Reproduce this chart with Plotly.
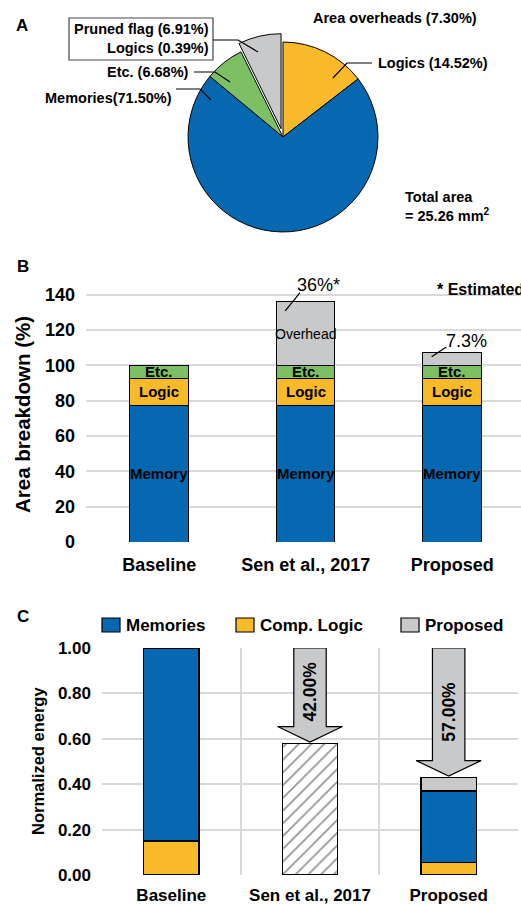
import plotly.graph_objects as go

# ---------------- data ----------------
pie_labels = ["Logics", "Memories", "Etc.", "Area overheads"]
pie_values = [14.52, 71.50, 6.68, 7.30]
pie_colors = ["#F8BA29", "#0568B0", "#7DBF63", "#C8C9CB"]

area_cats = ["Baseline", "Sen et al., 2017", "Proposed"]
area_memory = [77.1, 77.1, 77.1]
area_logic = [15.7, 15.7, 15.7]
area_etc = [7.2, 7.2, 7.2]
area_overhead = [None, 36.0, 7.3]
area_overhead_labels = [None, "36%*", "7.3%"]
area_ticks = [0, 20, 40, 60, 80, 100, 120, 140]

energy_cats = ["Baseline", "Sen et al., 2017", "Proposed"]
energy_logic = [0.15, None, 0.055]
energy_mem = [0.85, None, 0.315]
energy_prop = [None, None, 0.06]
energy_sen = [None, 0.58, None]
energy_ticks = [0.0, 0.2, 0.4, 0.6, 0.8, 1.0]

BLUE, ORANGE, GREEN, GRAY = "#0568B0", "#F8BA29", "#7DBF63", "#C8C9CB"
FONT = "Liberation Sans, Arial, sans-serif"
W, H = 521, 905


def px(x):
    return x / W


def py(y):
    return 1 - y / H


fig = go.Figure()

# ---------------- Panel A: pie ----------------
fig.add_trace(go.Pie(
    labels=pie_labels, values=pie_values, sort=False, direction="clockwise",
    rotation=0, textinfo="none", hoverinfo="label+percent",
    pull=[0, 0, 0, 0.09],
    marker=dict(colors=pie_colors, line=dict(color="black", width=1)),
    domain=dict(x=[px(179.5), px(386.5)], y=[py(240.5), py(33.5)]),
    showlegend=False, automargin=False,
))

# ---------------- Panel B: area breakdown ----------------
xb = list(range(len(area_cats)))
bline = dict(color="black", width=1)
for name, vals, col in [("Memory", area_memory, BLUE), ("Logic", area_logic, ORANGE),
                        ("Etc.", area_etc, GREEN), ("Overhead", area_overhead, GRAY)]:
    fig.add_trace(go.Bar(x=xb, y=vals, name=name, width=0.4,
                         marker=dict(color=col, line=bline),
                         xaxis="x", yaxis="y", showlegend=False))

# ---------------- Panel C: energy ----------------
xc = list(range(len(energy_cats)))
for name, vals, col in [("Comp. Logic", energy_logic, ORANGE), ("Memories", energy_mem, BLUE),
                        ("Proposed", energy_prop, GRAY)]:
    fig.add_trace(go.Bar(x=xc, y=vals, name=name, width=0.4,
                         marker=dict(color=col, line=dict(color="black", width=1.2)),
                         xaxis="x2", yaxis="y2", showlegend=False))
fig.add_trace(go.Bar(x=xc, y=energy_sen, name="Sen et al., 2017", width=0.4,
                     marker=dict(color="white", line=dict(color="black", width=1.2),
                                 pattern=dict(shape="/", fgcolor="#222222", bgcolor="white",
                                              size=9, solidity=0.18)),
                     xaxis="x2", yaxis="y2", showlegend=False))

annotations = []
shapes = []


def ann(text, x, y, size, xanchor="center", yanchor="middle", bold=True, xref="paper",
        yref="paper", align="center", textangle=0):
    annotations.append(dict(text=text, x=x, y=y, xref=xref, yref=yref, showarrow=False,
                            xanchor=xanchor, yanchor=yanchor, align=align, textangle=textangle,
                            font=dict(family=FONT, size=size, color="black",
                                      weight="bold" if bold else "normal")))


def poly(points, width=1.2):
    d = "M " + " L ".join(f"{px(a):.5f},{py(b):.5f}" for a, b in points)
    shapes.append(dict(type="path", path=d, xref="paper", yref="paper",
                       line=dict(color="black", width=width), layer="above"))


# panel letters
ann("A", px(22), py(25), 17)
ann("B", px(23), py(266), 17)
ann("C", px(23), py(616), 17)

# Panel A labels
fs_a = 14.5
ann("Area overheads (7.30%)", px(395), py(18), fs_a)
ann("Logics (14.52%)", px(376), py(63), fs_a, xanchor="left")
ann("Etc. (6.68%)", px(191), py(72), fs_a, xanchor="right")
ann("Memories(71.50%)", px(174), py(98), fs_a, xanchor="right")
ann("Pruned flag (6.91%)<br>Logics (0.39%)", px(211), py(38.5), fs_a, xanchor="right",
    align="right")
ann("Total area<br>= 25.26 mm<sup>2</sup>", px(403), py(206), fs_a, xanchor="left", align="left")
shapes.append(dict(type="rect", xref="paper", yref="paper", x0=px(69), x1=px(213),
                   y0=py(60), y1=py(18), line=dict(color="#444444", width=1.2), layer="above"))
poly([(333, 78), (347, 63), (372, 63)])
poly([(194, 72), (215, 72), (230, 82)])
poly([(176, 89), (200, 89), (211, 100)])
poly([(213, 40), (238, 40), (258, 52)])

# Panel B in-bar labels
for i in xb:
    m, l, e = area_memory[i], area_logic[i], area_etc[i]
    ann("Memory", i, m / 2, 15, xref="x", yref="y")
    ann("Logic", i, m + l / 2, 15, xref="x", yref="y")
    ann("Etc.", i, m + l + e / 2, 15, xref="x", yref="y")
    if area_overhead[i] and area_overhead[i] > 20:
        ann("Overhead", i, m + l + e + area_overhead[i] / 2, 14, xref="x", yref="y", bold=False)
    if area_overhead_labels[i]:
        top = m + l + e + area_overhead[i]
        big = area_overhead[i] > 20
        x0, y0 = i - 0.14, top - (5.2 if big else 2.5)
        x1, y1 = i - 0.04, top + (5.0 if big else 3.1)
        shapes.append(dict(type="line", xref="x", yref="y", x0=x0, y0=y0, x1=x1, y1=y1,
                           line=dict(color="black", width=1.2), layer="above"))
        ann(area_overhead_labels[i], i + (0.09 if big else 0.1), y1 + (4.5 if big else 3.4), 18,
            xref="x", yref="y", bold=False)
ann("* Estimated", px(435), py(289), 16, xanchor="left")
ann("Area breakdown (%)", px(22), py(415), 20.5, textangle=-90)

# Panel C arrows and savings labels
for i in xc:
    parts = [v for v in (energy_logic[i], energy_mem[i], energy_prop[i], energy_sen[i]) if v]
    total = sum(parts)
    if i == 0:
        continue
    tip = total + 0.006
    hs = tip + 0.068
    sw, hw = 0.117, 0.234
    path = (f"M {i-sw},1 L {i+sw},1 L {i+sw},{hs} L {i+hw},{hs} L {i},{tip} "
            f"L {i-hw},{hs} L {i-sw},{hs} Z")
    shapes.append(dict(type="path", path=path, xref="x2", yref="y2", fillcolor=GRAY,
                       line=dict(color="black", width=1.2), layer="above"))
    ann(f"{(1 - total) * 100:.2f}%", i, (1 + tip) / 2 + (0.015 if i == 1 else 0), 17.5,
        xref="x2", yref="y2", textangle=-90)
ann("Normalized energy", px(38), py(761), 16.5, textangle=-90)

# Panel C manual legend
for label, col, xs in [("Memories", BLUE, 102), ("Comp. Logic", ORANGE, 236), ("Proposed", GRAY, 401)]:
    shapes.append(dict(type="rect", xref="paper", yref="paper", x0=px(xs), x1=px(xs + 18),
                       y0=py(632), y1=py(618), fillcolor=col,
                       line=dict(color="black", width=1.2), layer="above"))
    ann(label, px(xs + 22), py(625), 17, xanchor="left")

tickfont = dict(family=FONT, size=18, color="black", weight="bold")
tickfont_c = dict(family=FONT, size=17, color="black", weight="bold")
grid = "#D9D9D9"

fig.update_layout(
    width=W, height=H, margin=dict(l=0, r=0, t=0, b=0, pad=0, autoexpand=False),
    paper_bgcolor="white", plot_bgcolor="white", showlegend=False,
    barmode="stack", font=dict(family=FONT, color="black"),
    xaxis=dict(domain=[px(86), 1.0], range=[-0.5, 2.47], tickvals=xb, ticktext=area_cats,
               showgrid=False, zeroline=False, showline=False, ticks="", automargin=False,
               tickfont=tickfont, ticklabelstandoff=10, anchor="y"),
    yaxis=dict(domain=[py(542), py(277)], range=[0, 150], tickvals=area_ticks,
               showgrid=True, gridcolor=grid, gridwidth=1.5, zeroline=False, showline=False,
               ticks="", tickfont=tickfont, ticklabelstandoff=10, anchor="x", automargin=False),
    xaxis2=dict(domain=[px(102), px(518)], range=[-0.5, 2.5], tickvals=xc, ticktext=energy_cats,
                showgrid=False, zeroline=False, showline=False, ticks="", automargin=False,
                minor=dict(tick0=-0.5, dtick=1, showgrid=True, gridcolor=grid, gridwidth=1.5),
                tickfont=tickfont_c, ticklabelstandoff=8, anchor="y2"),
    yaxis2=dict(domain=[py(875), py(648)], range=[0, 1.0], tickvals=energy_ticks,
                tickformat=".2f", showgrid=True, gridcolor=grid, gridwidth=1.5,
                zeroline=False, showline=False, ticks="", tickfont=tickfont_c,
                ticklabelstandoff=10, anchor="x2", automargin=False),
    annotations=annotations, shapes=shapes,
)

fig.write_html("out.html", config={"displayModeBar": False},
               post_script="document.body.style.margin='0';")
